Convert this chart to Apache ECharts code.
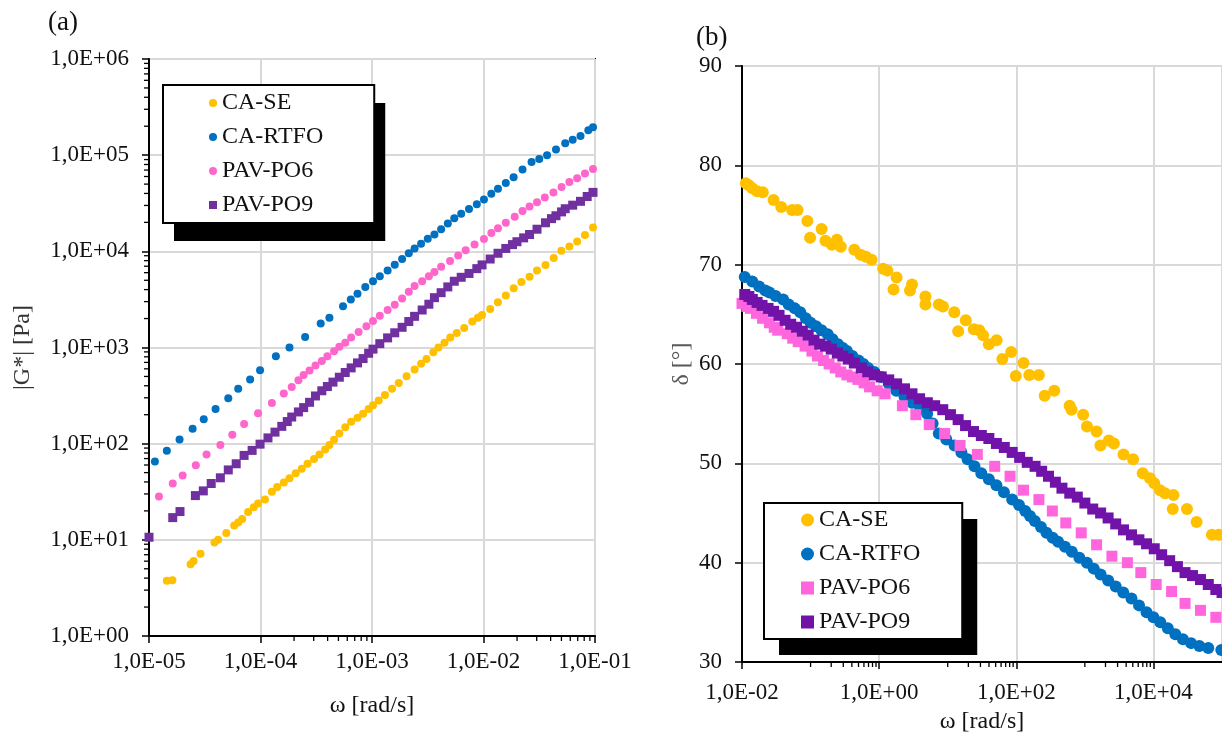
<!DOCTYPE html>
<html><head><meta charset="utf-8">
<script src="https://cdn.jsdelivr.net/npm/echarts@6/dist/echarts.min.js"></script>
<style>html,body{margin:0;padding:0;background:#fff}#c{width:1222px;height:739px}</style>
</head><body><div id="c"></div>
<script>
const seriesNames = ['CA-SE', 'CA-RTFO', 'PAV-PO6', 'PAV-PO9'];

// ---------- Panel (a): |G*| [Pa] vs ω [rad/s] ----------
const aCaseLogW = [-4.84,-4.79,-4.627,-4.6,-4.538,-4.413,-4.38,-4.307,-4.236,-4.2,-4.164,-4.111,-4.06,-4.022,-3.96,-3.898,-3.85,-3.791,-3.74,-3.684,-3.63,-3.578,-3.52,-3.471,-3.42,-3.382,-3.34,-3.293,-3.24,-3.187,-3.13,-3.08,-3.03,-2.991,-2.94,-2.884,-2.82,-2.76,-2.69,-2.618,-2.56,-2.511,-2.45,-2.404,-2.35,-2.298,-2.24,-2.173,-2.1,-2.05,-2.013,-1.94,-1.871,-1.8,-1.729,-1.66,-1.587,-1.52,-1.444,-1.37,-1.302,-1.23,-1.16,-1.09,-1.018];
const aCaseLogG = [0.574,0.58,0.745,0.78,0.856,0.973,1.0,1.07,1.148,1.18,1.217,1.29,1.34,1.377,1.42,1.499,1.55,1.596,1.64,1.693,1.74,1.791,1.84,1.888,1.94,1.985,2.04,2.107,2.17,2.229,2.27,2.31,2.36,2.40,2.45,2.507,2.57,2.63,2.70,2.77,2.83,2.88,2.95,3.0,3.05,3.105,3.15,3.202,3.27,3.31,3.338,3.40,3.47,3.54,3.616,3.68,3.737,3.80,3.859,3.93,4.005,4.05,4.102,4.17,4.248];

const aRtfoLogW = [-4.947,-4.84,-4.726,-4.609,-4.509,-4.403,-4.289,-4.2,-4.093,-4.004,-3.862,-3.74,-3.6,-3.46,-3.382,-3.26,-3.19,-3.13,-3.06,-2.991,-2.93,-2.86,-2.796,-2.73,-2.67,-2.618,-2.56,-2.5,-2.44,-2.38,-2.32,-2.262,-2.2,-2.13,-2.06,-1.996,-1.93,-1.87,-1.8,-1.73,-1.65,-1.569,-1.5,-1.43,-1.35,-1.267,-1.2,-1.13,-1.06,-1.018];
const aRtfoLogG = [1.815,1.927,2.044,2.156,2.253,2.36,2.472,2.57,2.667,2.764,2.91,3.0,3.11,3.25,3.31,3.43,3.50,3.56,3.63,3.69,3.74,3.80,3.86,3.92,3.98,4.03,4.08,4.13,4.175,4.23,4.29,4.345,4.39,4.44,4.49,4.54,4.60,4.65,4.71,4.77,4.85,4.93,4.96,5.0,5.06,5.124,5.16,5.2,5.26,5.29];

const aPo6LogW = [-5.007,-4.911,-4.787,-4.698,-4.58,-4.484,-4.36,-4.253,-4.147,-4.022,-3.898,-3.791,-3.72,-3.66,-3.613,-3.56,-3.507,-3.45,-3.4,-3.34,-3.293,-3.24,-3.187,-3.12,-3.05,-2.991,-2.93,-2.86,-2.796,-2.73,-2.67,-2.618,-2.55,-2.49,-2.44,-2.38,-2.3,-2.227,-2.16,-2.08,-1.996,-1.93,-1.87,-1.8,-1.72,-1.65,-1.587,-1.52,-1.45,-1.373,-1.3,-1.23,-1.16,-1.09,-1.018];
const aPo6LogG = [1.377,1.45,1.586,1.669,1.776,1.888,1.985,2.092,2.204,2.316,2.423,2.521,2.59,2.66,2.715,2.76,2.813,2.86,2.91,2.96,3.007,3.05,3.105,3.16,3.22,3.275,3.33,3.39,3.445,3.51,3.58,3.64,3.69,3.74,3.786,3.84,3.90,3.956,4.01,4.07,4.127,4.19,4.24,4.297,4.36,4.42,4.467,4.51,4.56,4.613,4.67,4.72,4.76,4.81,4.856];

const aPo9LogW = [-5,-4.787,-4.722,-4.584,-4.513,-4.442,-4.36,-4.289,-4.218,-4.147,-4.075,-4.004,-3.933,-3.87,-3.809,-3.76,-3.72,-3.66,-3.613,-3.56,-3.507,-3.45,-3.4,-3.35,-3.293,-3.24,-3.187,-3.13,-3.08,-3.03,-2.991,-2.93,-2.86,-2.796,-2.73,-2.67,-2.618,-2.55,-2.49,-2.44,-2.38,-2.32,-2.262,-2.2,-2.13,-2.06,-2.013,-1.94,-1.87,-1.8,-1.74,-1.7,-1.64,-1.587,-1.52,-1.444,-1.39,-1.35,-1.3,-1.267,-1.2,-1.13,-1.07,-1.018];
const aPo9LogG = [1.027,1.231,1.294,1.46,1.509,1.586,1.645,1.727,1.791,1.878,1.93,1.995,2.06,2.12,2.18,2.23,2.277,2.33,2.375,2.43,2.496,2.55,2.594,2.64,2.691,2.74,2.788,2.84,2.885,2.94,2.983,3.04,3.10,3.153,3.21,3.27,3.324,3.39,3.45,3.518,3.57,3.63,3.689,3.73,3.77,3.82,3.859,3.92,3.98,4.03,4.07,4.1,4.14,4.175,4.23,4.297,4.34,4.37,4.41,4.443,4.48,4.52,4.57,4.613];

// ---------- Panel (b): δ [°] vs ω [rad/s] (ω as log10) ----------
const bCaseLogW = [-1.944,-1.849,-1.697,-1.54,-1.428,-1.27,-1.047,-1.007,-0.839,-0.783,-0.615,-0.559,-0.362,-0.194,-0.11,0.058,0.255,0.21,0.479,0.45,0.675,0.675,0.872,1.096,1.264,1.152,1.46,1.516,1.713,1.6,1.797,1.926,1.993,2.105,2.19,2.33,2.414,2.554,2.778,2.806,2.975,3.031,3.171,3.227,3.423,3.564,3.704,3.844,4.012,4.097,4.293,4.282,4.489,4.629,4.853,-1.9,-1.78,-1.19,-0.69,-0.27,0.12,0.93,1.38,3.35,3.95,4.17,4.95];
const bCaseD = [78.2,77.7,77.3,76.5,75.8,75.5,74.4,72.7,73.6,72.4,72.5,71.8,71.5,70.8,70.5,69.6,68.7,67.5,68.0,67.4,66.8,66.0,66.0,65.2,64.4,63.3,63.4,62.9,62.4,62.0,60.5,61.2,58.8,60.1,58.9,58.9,56.8,57.3,55.8,55.4,54.9,53.7,53.2,51.8,52.0,50.9,50.4,49.0,48.0,47.3,46.8,45.4,45.4,44.1,42.8,78.0,77.4,75.5,72.0,71.0,69.4,65.8,63.5,52.3,48.5,47.0,42.8];

const bRtfoLogW = [-1.96,-1.85,-1.75,-1.66,-1.6,-1.51,-1.4,-1.32,-1.23,-1.15,-1.07,-1.0,-0.92,-0.84,-0.75,-0.68,-0.6,-0.53,-0.47,-0.39,-0.3,-0.23,-0.16,-0.07,0.03,0.14,0.25,0.37,0.48,0.6,0.7,0.78,0.87,0.98,1.1,1.2,1.29,1.39,1.49,1.6,1.71,1.82,1.94,2.04,2.13,2.2,2.27,2.36,2.44,2.53,2.61,2.71,2.81,2.92,3.03,3.13,3.23,3.34,3.45,3.56,3.68,3.79,3.9,4.0,4.1,4.21,4.32,4.43,4.55,4.67,4.8,4.99];
const bRtfoD = [68.75,68.3,67.8,67.4,67.2,66.85,66.5,66.0,65.6,65.2,64.6,64.15,63.8,63.4,63.0,62.5,62.0,61.6,61.3,60.8,60.35,60.0,59.6,59.2,58.7,58.0,57.3,56.7,56.1,55.5,55.0,54.0,53.0,52.4,51.8,51.1,50.4,49.7,49.0,48.4,47.8,47.1,46.35,45.8,45.2,44.7,44.2,43.6,43.0,42.5,42.1,41.6,41.1,40.5,40.0,39.4,38.8,38.2,37.6,37.0,36.4,35.7,35.0,34.5,34.0,33.4,32.8,32.3,31.9,31.6,31.4,31.2];

const bPo6LogW = [-2.0,-1.93,-1.877,-1.79,-1.7,-1.6,-1.53,-1.48,-1.34,-1.26,-1.18,-1.08,-0.98,-0.9,-0.81,-0.73,-0.64,-0.56,-0.47,-0.39,-0.31,-0.22,-0.14,-0.03,0.086,0.339,0.535,0.731,0.956,1.18,1.432,1.685,1.909,2.105,2.33,2.526,2.722,2.947,3.171,3.395,3.62,3.816,4.04,4.265,4.461,4.686,4.91];
const bPo6D = [66.1,65.8,65.6,65.1,64.6,64.15,63.7,63.4,63.05,62.6,62.25,61.8,61.3,60.8,60.35,60.0,59.6,59.2,58.9,58.7,58.45,58.1,57.7,57.3,57.0,55.8,54.9,53.9,53.0,51.8,50.9,49.7,48.7,47.3,46.35,45.2,44.0,43.0,41.8,40.65,40.0,39.0,37.8,37.1,35.9,35.2,34.5];

const bPo9LogW = [-1.96,-1.9,-1.85,-1.78,-1.708,-1.62,-1.54,-1.46,-1.372,-1.29,-1.204,-1.12,-1.035,-0.95,-0.867,-0.78,-0.699,-0.61,-0.53,-0.45,-0.362,-0.26,-0.166,-0.07,0.03,0.14,0.255,0.37,0.479,0.59,0.703,0.81,0.928,1.04,1.152,1.26,1.376,1.49,1.6,1.71,1.825,1.94,2.049,2.16,2.274,2.37,2.47,2.57,2.666,2.78,2.89,3.0,3.115,3.23,3.339,3.45,3.564,3.68,3.788,3.9,4.012,4.12,4.237,4.35,4.461,4.57,4.686,4.8,4.91,5.0];
const bPo9D = [67.0,66.8,66.5,66.2,65.9,65.6,65.3,64.9,64.4,64.0,63.7,63.3,62.9,62.4,62.0,61.8,61.5,61.1,60.8,60.5,60.1,59.6,59.2,58.9,58.7,58.4,58.0,57.5,57.0,56.5,56.1,55.8,55.4,54.9,54.4,53.8,53.2,52.8,52.5,52.0,51.6,51.1,50.6,50.1,49.7,49.2,48.7,48.1,47.5,47.0,46.6,46.0,45.4,45.0,44.5,43.9,43.3,42.8,42.3,41.9,41.4,40.8,40.2,39.6,39.0,38.7,38.3,37.8,37.3,37.0];

// minor tick values (axis values)
const aMinorX = [2e-4,3e-4,4e-4,5e-4,6e-4,7e-4,8e-4,9e-4,2e-2,3e-2,4e-2,5e-2,6e-2,7e-2,8e-2,9e-2];
const aMinorY = [2,3,4,5,6,7,8,9,20,30,40,50,60,70,80,90,200,300,400,500,600,700,800,900,2e3,3e3,4e3,5e3,6e3,7e3,8e3,9e3,2e4,3e4,4e4,5e4,6e4,7e4,8e4,9e4,2e5,3e5,4e5,5e5,6e5,7e5,8e5,9e5];
const bMinorX = [0.1,0.2,0.3,0.4,0.5,0.6,0.7,0.8,0.9,10,20,30,40,50,60,70,80,90,1000,2000,3000,4000,5000,6000,7000,8000,9000];

const colorsA = ['#FFC000', '#0070C0', '#FF66CC', '#7030A0'];
const colorsB = ['#FFC000', '#0070C0', '#FF66DD', '#7112A8'];
const iconsA = ['circle', 'circle', 'circle', 'rect'];
const iconsB = ['circle', 'circle', 'rect', 'rect'];

const FONT = 'Liberation Serif';
const pow10 = v => Math.pow(10, v);
const zipLogLog = (xs, ys) => xs.map((x, i) => [pow10(x), pow10(ys[i])]);
const zipLogLin = (xs, ys) => xs.map((x, i) => [pow10(x), ys[i]]);

function expLabel(v) {
  const e = Math.round(Math.log10(v));
  const a = Math.abs(e);
  return '1,0E' + (e < 0 ? '-' : '+') + (a < 10 ? '0' + a : '' + a);
}

function minorTicks(xi, yi, pts, dir, len) {
  return {
    type: 'custom', coordinateSystem: 'cartesian2d', xAxisIndex: xi, yAxisIndex: yi,
    silent: true, clip: false, z: 5, animation: false,
    data: pts,
    renderItem: function (params, api) {
      const p = api.coord([api.value(0), api.value(1)]);
      const shape = dir === 'x'
        ? { x1: p[0], y1: p[1], x2: p[0], y2: p[1] + len }
        : { x1: p[0] - len, y1: p[1], x2: p[0], y2: p[1] };
      return { type: 'line', shape: shape, style: { stroke: '#000', lineWidth: 1.3 } };
    }
  };
}

const labelStyle = { fontFamily: FONT, fontSize: 23, color: '#111' };
const nameStyle = { fontFamily: FONT, fontSize: 24, color: '#111' };
const gridLine = { show: true, lineStyle: { color: '#D9D9D9', width: 2 } };
const axisLine = { show: true, lineStyle: { color: '#000', width: 2 } };
const axisTick = { show: true, inside: false, length: 7, lineStyle: { color: '#000', width: 1.5 } };

const aData = [zipLogLog(aCaseLogW, aCaseLogG), zipLogLog(aRtfoLogW, aRtfoLogG), zipLogLog(aPo6LogW, aPo6LogG), zipLogLog(aPo9LogW, aPo9LogG)];
const bData = [zipLogLin(bCaseLogW, bCaseD), zipLogLin(bRtfoLogW, bRtfoD), zipLogLin(bPo6LogW, bPo6D), zipLogLin(bPo9LogW, bPo9D)];

const series = [];
aData.forEach((d, i) => series.push({
  name: seriesNames[i], type: 'scatter', xAxisIndex: 0, yAxisIndex: 0,
  symbol: iconsA[i], symbolSize: iconsA[i] === 'rect' ? 9 : 8,
  itemStyle: { color: colorsA[i], opacity: 1 }, data: d, z: 2 + i * 0.1
}));
bData.forEach((d, i) => series.push({
  name: seriesNames[i], type: 'scatter', xAxisIndex: 1, yAxisIndex: 1,
  symbol: iconsB[i], symbolSize: iconsB[i] === 'rect' ? 11 : 12,
  itemStyle: { color: colorsB[i], opacity: 1 }, data: d, z: 2 + i * 0.1
}));
series.push(minorTicks(0, 0, aMinorX.map(v => [v, 1]), 'x', 5));
series.push(minorTicks(0, 0, aMinorY.map(v => [1e-5, v]), 'y', 5));
series.push(minorTicks(1, 1, bMinorX.map(v => [v, 30]), 'x', 5));

function makeLegend(opts, icons, colors, shadow) {
  const base = {
    orient: 'vertical', left: opts.left, top: opts.top, padding: opts.padding, itemGap: 10,
    itemWidth: opts.icon, itemHeight: opts.icon, itemTextGap: opts.textGap, selectedMode: false,
    backgroundColor: '#fff', borderColor: '#000', borderWidth: 2, z: 6,
    textStyle: { fontFamily: FONT, fontSize: 24, lineHeight: 24, color: '#111' },
    data: seriesNames.map((n, i) => ({ name: n, icon: icons[i], itemStyle: { color: colors[i] } }))
  };
  if (shadow) {
    base.left = opts.left + opts.sx; base.top = opts.top + opts.sy;
    base.backgroundColor = '#000'; base.borderWidth = 0; base.z = 3;
    base.textStyle = Object.assign({}, base.textStyle, { color: 'rgba(0,0,0,0)' });
    base.data = seriesNames.map((n, i) => ({ name: n, icon: icons[i], itemStyle: { color: 'rgba(0,0,0,0)' } }));
  }
  return base;
}
const legA = { left: 163, top: 85, padding: [6, 51, 6, 46], icon: 8, textGap: 9, sx: 11, sy: 18 };
const legB = { left: 764, top: 503, padding: [5, 42, 5, 37], icon: 13, textGap: 6, sx: 15, sy: 16 };

const option = {
  backgroundColor: '#fff',
  animation: false,
  title: [
    { text: '(a)', left: 43, top: 4, textStyle: { fontFamily: FONT, fontSize: 27, fontWeight: 'normal', color: '#111' } },
    { text: '(b)', left: 691, top: 19, textStyle: { fontFamily: FONT, fontSize: 27, fontWeight: 'normal', color: '#111' } }
  ],
  grid: [
    { left: 149, right: 627, top: 59, bottom: 103, show: true, borderColor: '#000', borderWidth: 2, backgroundColor: 'transparent' },
    { left: 742, right: -1, top: 66, bottom: 77, show: true, borderColor: '#000', borderWidth: 2, backgroundColor: 'transparent' }
  ],
  xAxis: [
    { type: 'log', gridIndex: 0, logBase: 10, min: 1e-5, max: 1e-1,
      name: 'ω [rad/s]', nameLocation: 'middle', nameGap: 58, nameTextStyle: nameStyle,
      axisLine: axisLine, axisTick: axisTick, splitLine: gridLine,
      axisLabel: Object.assign({ margin: 14, formatter: expLabel }, labelStyle) },
    { type: 'log', gridIndex: 1, logBase: 100, min: 1e-2, max: 1e5,
      name: 'ω [rad/s]', nameLocation: 'middle', nameGap: 48, nameTextStyle: nameStyle,
      axisLine: axisLine, axisTick: axisTick, splitLine: gridLine,
      axisLabel: Object.assign({ margin: 19, formatter: expLabel, showMaxLabel: false }, labelStyle) }
  ],
  yAxis: [
    { type: 'log', gridIndex: 0, logBase: 10, min: 1, max: 1e6,
      name: '|G*| [Pa]', nameLocation: 'middle', nameGap: 114, nameTextStyle: Object.assign({}, nameStyle, { color: '#333' }),
      axisLine: axisLine, axisTick: axisTick, splitLine: gridLine,
      axisLabel: Object.assign({ margin: 20, formatter: expLabel }, labelStyle) },
    { type: 'value', gridIndex: 1, min: 30, max: 90, interval: 10,
      name: 'δ [°]', nameLocation: 'middle', nameGap: 48, nameTextStyle: Object.assign({}, nameStyle, { color: '#595959' }),
      axisLine: axisLine, axisTick: axisTick, splitLine: gridLine,
      axisLabel: Object.assign({ margin: 20 }, labelStyle) }
  ],
  legend: [
    makeLegend(legA, iconsA, colorsA, true),
    makeLegend(legA, iconsA, colorsA, false),
    makeLegend(legB, iconsB, colorsB, true),
    makeLegend(legB, iconsB, colorsB, false)
  ],
  series: series
};

const chart = echarts.init(document.getElementById('c'), null, { renderer: 'canvas' });
chart.setOption(option);
</script></body></html>
